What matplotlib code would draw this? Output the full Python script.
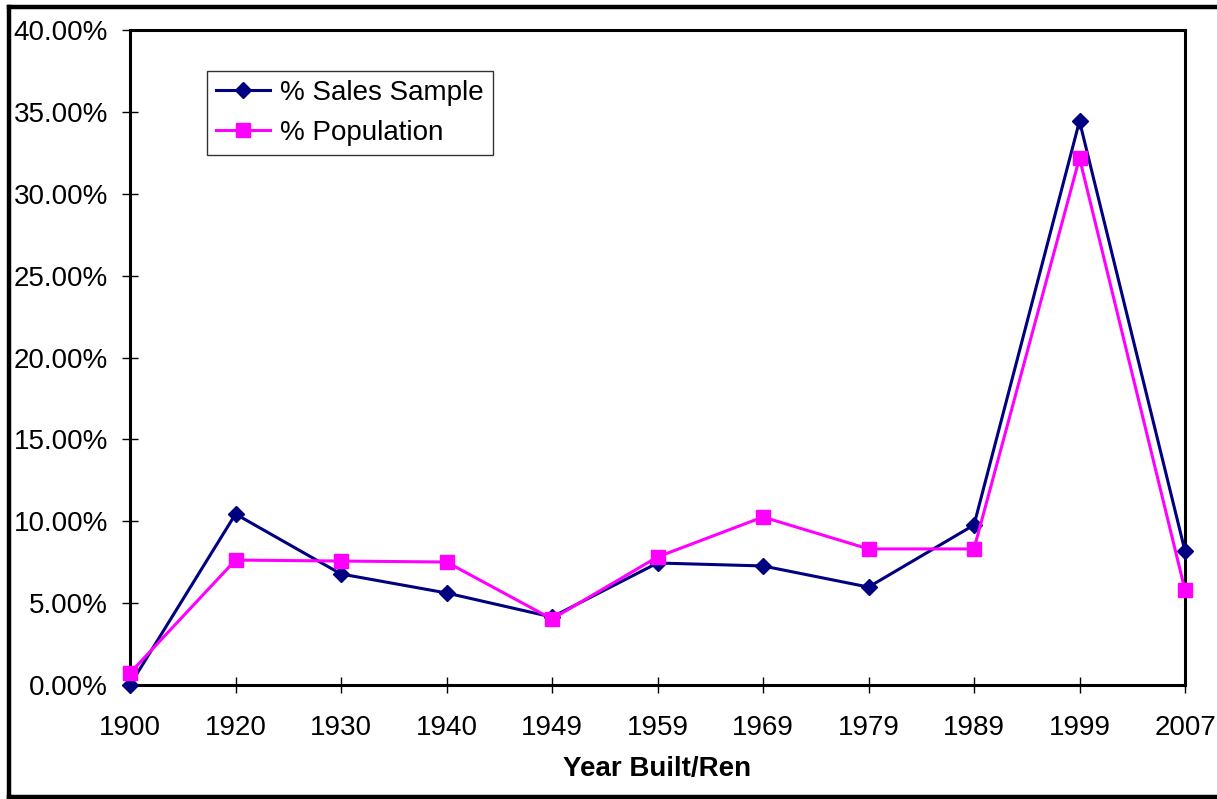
import matplotlib
matplotlib.use("Agg")
import matplotlib.pyplot as plt
from matplotlib.lines import Line2D
from matplotlib.ticker import FuncFormatter

years = ["1900", "1920", "1930", "1940", "1949", "1959", "1969", "1979", "1989", "1999", "2007"]
sales_sample = [0.00, 10.44, 6.78, 5.62, 4.15, 7.45, 7.27, 5.98, 9.77, 34.44, 8.18]
population = [0.73, 7.63, 7.57, 7.51, 4.03, 7.82, 10.26, 8.31, 8.31, 32.18, 5.80]

plt.rcParams['font.family'] = ['Liberation Sans', 'DejaVu Sans']

fig = plt.figure(figsize=(12.17, 7.99), dpi=100)
ax = fig.add_axes([130/1217, 1-685/799, (1185-130)/1217, (685-30)/799])

x = list(range(len(years)))
ax.plot(x, sales_sample, color='#000080', lw=2.2, marker='D', ms=8.3,
        mec='#000080', mfc='#000080', label='% Sales Sample', clip_on=False, zorder=3)
ax.plot(x, population, color='#FF00FF', lw=2.2, marker='s', ms=10,
        mec='#FF00FF', mfc='#FF00FF', label='% Population', clip_on=False, zorder=4)

ax.set_xlim(0, len(years)-1)
ax.set_ylim(0, 40)
ax.set_xticks(x)
ax.set_xticklabels(years)
ax.set_yticks([0, 5, 10, 15, 20, 25, 30, 35, 40])
ax.yaxis.set_major_formatter(FuncFormatter(lambda v, p: f"{v:.2f}%"))

ax.tick_params(axis='both', direction='inout', length=11.5, width=1.0,
               labelsize=20, colors='black')
ax.tick_params(axis='y', pad=10)
ax.tick_params(axis='x', pad=16)
for s in ax.spines.values():
    s.set_linewidth(2.2)
    s.set_color('black')

ax.set_xlabel("Year Built/Ren", fontsize=20, fontweight='bold', labelpad=11)

leg = ax.legend(loc='upper left', bbox_to_anchor=((207-130)/1055, (685-71)/655),
                fontsize=20, frameon=True, fancybox=False, shadow=False,
                handlelength=1.95, handletextpad=0.36, labelspacing=0.5,
                borderpad=0.32, borderaxespad=0, edgecolor='black')
leg.get_frame().set_linewidth(1.0)

# figure border
fig.add_artist(Line2D([9/1217, 9/1217], [1-797/799, 1-7/799], transform=fig.transFigure, color='black', lw=3.2))
fig.add_artist(Line2D([9/1217, 1.01], [1-7/799, 1-7/799], transform=fig.transFigure, color='black', lw=3.2))
fig.add_artist(Line2D([9/1217, 1.01], [1-797/799, 1-797/799], transform=fig.transFigure, color='black', lw=3.2))

fig.savefig("out.png", dpi=100)
